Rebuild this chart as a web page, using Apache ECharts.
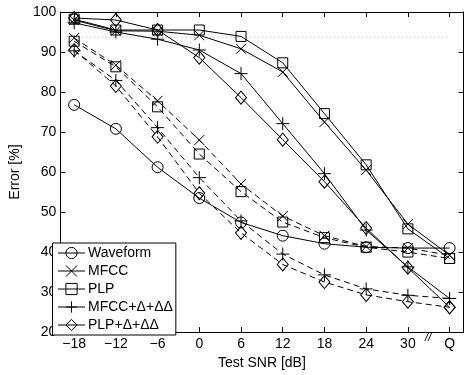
<!DOCTYPE html>
<html>
<head>
<meta charset="utf-8">
<script src="https://cdn.jsdelivr.net/npm/echarts@6/dist/echarts.min.js"></script>
<style>html,body{margin:0;padding:0;background:#fff;}#c{width:471px;height:375px;}</style>
</head>
<body>
<div id="c"></div>
<script>
const xPos = [-18, -12, -6, 0, 6, 12, 18, 24, 30, 36];
const xLabels = ['\u221218', '\u221212', '\u22126', '0', '6', '12', '18', '24', '30', 'Q'];
const yTicks = [20, 30, 40, 50, 60, 70, 80, 90, 100];
const seriesNames = ['Waveform', 'MFCC', 'PLP', 'MFCC+\u0394+\u0394\u0394', 'PLP+\u0394+\u0394\u0394'];
const waveform   = [76.8, 70.8, 61.2, 53.5, 47.4, 44.1, 42.1, 41.2, 41.0, 41.0];
const mfccSolid  = [98.0, 95.3, 95.2, 94.2, 90.8, 85.0, 72.5, 60.5, 47.0, 39.2];
const plpSolid   = [98.2, 95.5, 95.5, 95.5, 93.9, 87.3, 74.6, 61.8, 45.8, 38.4];
const mfccDSolid = [97.3, 95.0, 93.2, 90.5, 84.6, 72.1, 59.6, 45.5, 36.3, 28.4];
const plpDSolid  = [98.5, 98.0, 95.5, 88.6, 78.6, 68.1, 57.6, 46.0, 36.1, 26.2];
const mfccDash   = [93.5, 86.7, 77.8, 68.0, 57.0, 49.0, 44.1, 41.4, 41.0, 39.2];
const plpDash    = [92.7, 86.3, 76.3, 64.5, 55.1, 47.5, 43.6, 41.2, 40.0, 38.4];
const mfccDDash  = [90.3, 82.9, 71.1, 58.6, 47.8, 39.5, 34.3, 30.8, 29.2, 28.4];
const plpDDash   = [90.5, 81.5, 68.8, 54.7, 44.8, 36.9, 32.5, 29.3, 27.6, 26.2];
const refLevel = [93.7, 93.7];
const refX = [-18, 36];

const FONT = '"Liberation Sans", Arial, Helvetica, sans-serif';
const SYM = {
  circle: {symbol: 'circle', size: 11},
  cross: {symbol: 'path://M0,0L1,1M1,0L0,1', size: 10},
  square: {symbol: 'rect', size: 10},
  plus: {symbol: 'path://M0.5,0L0.5,1M0,0.5L1,0.5', size: 13},
  diamond: {symbol: 'path://M0,-1L1,0L0,1L-1,0Z', size: [11, 13]}
};

function pairs(vals) { return xPos.map((x, i) => [x, vals[i]]); }

function mk(name, vals, sym, dashed) {
  return {
    name: name,
    type: 'line',
    data: pairs(vals),
    symbol: sym.symbol,
    symbolSize: sym.size,
    showSymbol: true,
    showAllSymbol: true,
    animation: false,
    z: 3,
    lineStyle: {color: '#000', width: 1, type: dashed ? [6, 4] : 'solid'},
    itemStyle: {color: 'transparent', borderColor: '#000', borderWidth: 1},
    emphasis: {disabled: true}
  };
}

const series = [
  mk(seriesNames[0], waveform, SYM.circle, false),
  mk(seriesNames[1], mfccSolid, SYM.cross, false),
  mk(seriesNames[2], plpSolid, SYM.square, false),
  mk(seriesNames[3], mfccDSolid, SYM.plus, false),
  mk(seriesNames[4], plpDSolid, SYM.diamond, false),
  mk('MFCC multi', mfccDash, SYM.cross, true),
  mk('PLP multi', plpDash, SYM.square, true),
  mk('MFCC+D multi', mfccDDash, SYM.plus, true),
  mk('PLP+D multi', plpDDash, SYM.diamond, true),
  {
    name: 'ref', type: 'line', data: refX.map((x, i) => [x, refLevel[i]]),
    symbol: 'none', animation: false, z: 1,
    lineStyle: {color: '#aaa', width: 1, type: [1, 3]}, emphasis: {disabled: true}
  }
];

const tickStyle = {show: true, inside: true, length: 5, lineStyle: {color: '#000', width: 1}};
const axisLine = {show: true, onZero: false, lineStyle: {color: '#000', width: 1}};

const chart = echarts.init(document.getElementById('c'), null, {renderer: 'canvas'});
chart.setOption({
  animation: false,
  backgroundColor: '#fff',
  textStyle: {fontFamily: FONT},
  grid: {left: 48.5, right: 7.5, top: 12, bottom: 36.5, containLabel: false},
  legend: {
    data: seriesNames,
    orient: 'vertical',
    left: 52.5, top: 243,
    padding: [3, 3, 3, 5],
    itemWidth: 27, itemHeight: 14, itemGap: 4,
    backgroundColor: '#fff',
    borderColor: '#000', borderWidth: 1,
    itemStyle: {borderWidth: 1, color: 'transparent', borderColor: '#000'},
    lineStyle: {width: 1, color: '#000', type: 'solid'},
    textStyle: {fontFamily: FONT, fontSize: 14, color: '#000', padding: [0, 0, 0, -2]},
    selectedMode: false
  },
  xAxis: [{
    type: 'value', min: -20, max: 38, position: 'bottom',
    name: 'Test SNR [dB]', nameLocation: 'middle', nameGap: 19,
    nameTextStyle: {fontFamily: FONT, fontSize: 14, color: '#000'},
    axisLine: axisLine,
    axisTick: Object.assign({customValues: xPos}, tickStyle),
    axisLabel: {customValues: xPos, fontFamily: FONT, fontSize: 14, color: '#000', margin: 5,
      formatter: v => xLabels[xPos.indexOf(v)] || ''},
    splitLine: {show: false}
  }, {
    type: 'value', min: -20, max: 38, position: 'top',
    axisLine: axisLine,
    axisTick: Object.assign({customValues: xPos}, tickStyle),
    axisLabel: {show: false},
    splitLine: {show: false}
  }],
  yAxis: [{
    type: 'value', min: 20, max: 100, interval: 10, position: 'left',
    name: 'Error [%]', nameLocation: 'middle', nameGap: 31,
    nameTextStyle: {fontFamily: FONT, fontSize: 14, color: '#000'},
    axisLine: axisLine, axisTick: tickStyle,
    axisLabel: {fontFamily: FONT, fontSize: 14, color: '#000', margin: 4},
    splitLine: {show: false}
  }, {
    type: 'value', min: 20, max: 100, interval: 10, position: 'right',
    axisLine: axisLine, axisTick: tickStyle,
    axisLabel: {show: false}, splitLine: {show: false}
  }],
  graphic: [{
    type: 'text', left: 425, top: 332, z: 10,
    style: {text: '//', font: 'italic 12px ' + FONT, fill: '#000'}
  }],
  series: series
});
</script>
</body>
</html>
